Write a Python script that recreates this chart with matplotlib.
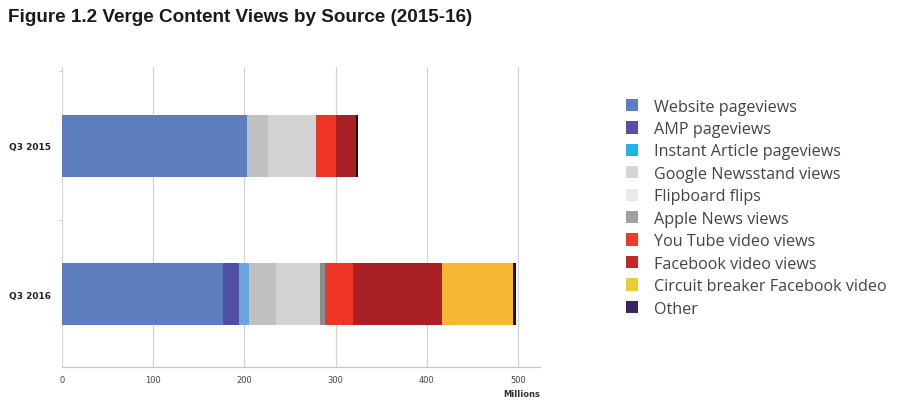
import matplotlib.pyplot as plt
from matplotlib.patches import Patch

quarters = ["Q3 2016", "Q3 2015"]
sources = ["Website pageviews", "AMP pageviews", "Instant Article pageviews",
           "Google Newsstand views", "Flipboard flips", "Apple News views",
           "You Tube video views", "Facebook video views",
           "Circuit breaker Facebook video", "Other"]

# millions of views, order: Q3 2016, Q3 2015
website = [176, 203]
amp = [17.5, 0]
instant = [12, 0]
google = [29, 23]
flipboard = [48.5, 52]
apple = [5, 0]
youtube = [31, 22.5]
facebook = [98, 21.5]
circuit = [77, 0]
other = [4, 2]

series = [website, amp, instant, google, flipboard, apple, youtube, facebook, circuit, other]
bar_colors = ["#5d7dbd", "#5050a3", "#6aa8dc", "#c0c1c0", "#d3d3d3", "#8a8c8c",
              "#ee3524", "#a82024", "#f7b733", "#111111"]
legend_colors = ["#5b7fc4", "#5550a8", "#1fb4e8", "#d4d5d5", "#e8e9ea", "#a0a0a0",
                 "#ef3a25", "#c0282a", "#e8cd35", "#3a2460"]

fig = plt.figure(figsize=(9.23, 4.10), dpi=100)
ax = fig.add_axes([62 / 923, 1 - 368 / 410, 478 / 923, 300 / 410])

ypos = [0, 1]
left = [0, 0]
for vals, col in zip(series, bar_colors):
    ax.barh(ypos, vals, left=left, height=0.42, color=col, edgecolor="none", zorder=3)
    left = [a + b for a, b in zip(left, vals)]

ax.set_xlim(0, 524)
ax.set_ylim(-0.49, 1.53)
ax.set_xticks([0, 100, 200, 300, 400, 500])
ax.set_xticklabels(["0", "100", "200", "300", "400", "500"], fontsize=6, color="#444444")
ax.set_yticks([0.5, 1.5], minor=True)
ax.set_yticks(ypos)
ax.set_yticklabels(quarters, fontsize=6.5, fontweight="bold", color="#222222")
ax.tick_params(axis="y", which="major", length=0, pad=8)
ax.tick_params(axis="y", which="minor", length=2, color="#cccccc", width=0.8)
ax.tick_params(axis="x", length=0, pad=6)
ax.grid(axis="x", color="#d3d3d3", linewidth=0.9, zorder=0)
for s in ["top", "right", "left"]:
    ax.spines[s].set_visible(False)
ax.spines["bottom"].set_color("#c8c8c8")
ax.spines["bottom"].set_linewidth(0.9)

ax.text(1.0, -0.075, "Millions", transform=ax.transAxes, ha="right", va="top",
        fontsize=6, fontweight="bold", color="#333333")

fig.text(8 / 923, 1 - 18 / 410, "Figure 1.2 Verge Content Views by Source (2015-16)",
         ha="left", va="center", fontsize=13.6, fontweight="bold",
         family="Liberation Sans", color="#1a1a1a")

handles = [Patch(facecolor=c, edgecolor="none") for c in legend_colors]
fig.legend(handles, sources, loc="upper left", bbox_to_anchor=(611 / 923, 1 - 85 / 410),
           frameon=False, handlelength=0.8, handleheight=0.8,
           handletextpad=0.95, labelspacing=0.4, labelcolor="#444444",
           prop={"family": "Open Sans", "size": 11.6})

fig.savefig("out.png", dpi=100)
